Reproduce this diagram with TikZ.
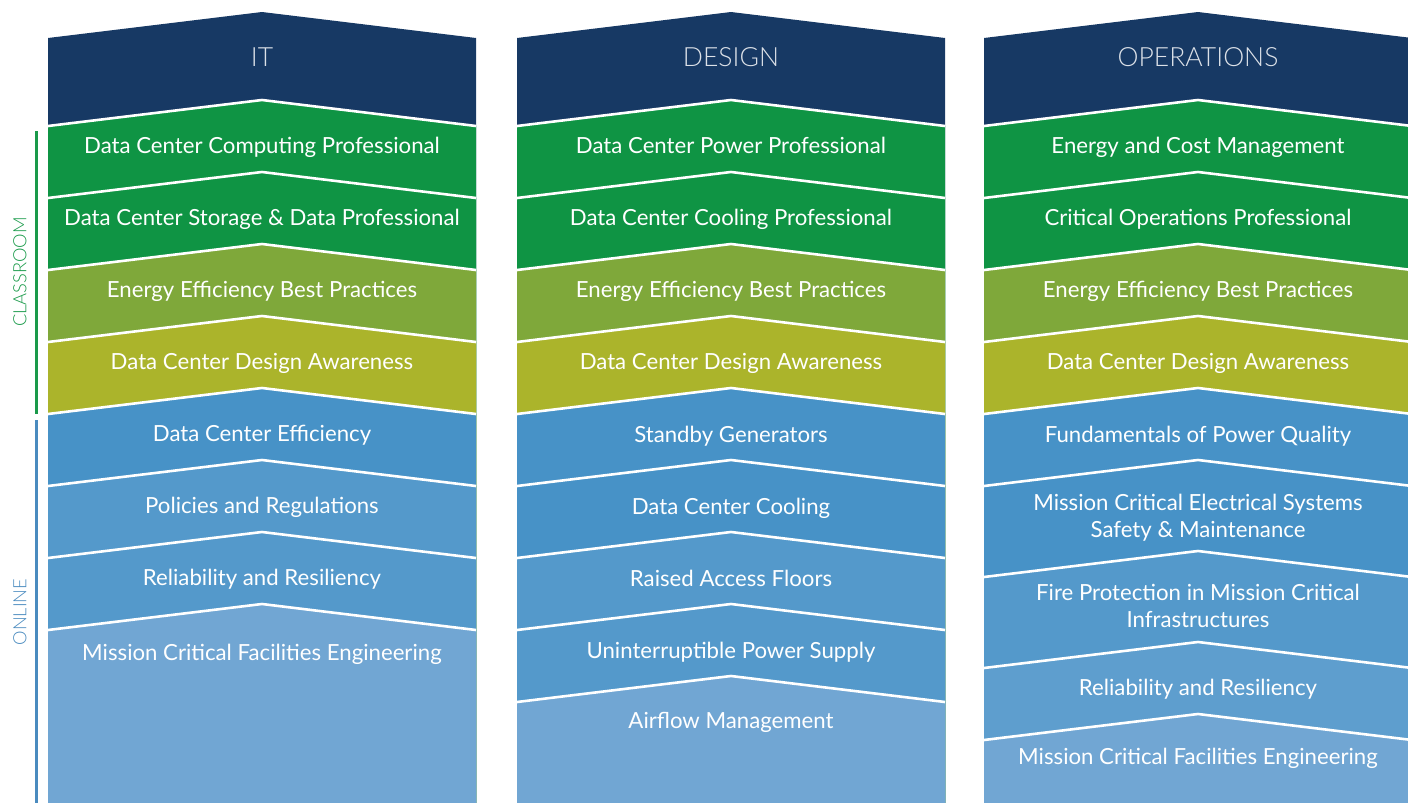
\documentclass[tikz,border=0pt]{standalone}
\usepackage{fontspec}
\setmainfont{Lato}
\newfontfamily\lightfont{Lato Light}

\definecolor{navy}{HTML}{173964}
\definecolor{leafgreen}{HTML}{0F9444}
\definecolor{olive}{HTML}{7FA83A}
\definecolor{lime}{HTML}{ABB42B}
\definecolor{blueA}{HTML}{4792C7}
\definecolor{blueB}{HTML}{5499CB}
\definecolor{blueC}{HTML}{5E9ECE}
\definecolor{blueD}{HTML}{71A6D3}
\definecolor{classgreen}{HTML}{1A9A4A}
\definecolor{onlineblue}{HTML}{4A8BBF}

% band from a chevron top edge down to the bottom of the page
\newcommand{\chevfill}[3]{\fill[#3] (#1,#2) -- ++(214,-26) -- ++(214,26) -- (#1+428,803) -- (#1,803) -- cycle;}
% white chevron seam between two bands
\newcommand{\chevline}[2]{\draw[seam] (#1,#2) -- ++(214,-26) -- ++(214,26);}

\begin{document}
\begin{tikzpicture}[x=1pt, y=-1pt,
    seam/.style={white, line width=2.6pt},
    lbl/.style={anchor=base, text=white, inner sep=0pt, align=center,
                font=\fontsize{22.2}{27}\selectfont},
    hdr/.style={anchor=base, text=white!85!navy, inner sep=0pt,
                font=\lightfont\fontsize{26.5}{30}\selectfont},
    side/.style={rotate=90, inner sep=0pt, font=\lightfont\fontsize{18.3}{22}\selectfont},
    bracket/.style={line width=3pt}]
    \useasboundingbox (0,0) rectangle (1408,803);

    % IT
    \chevfill{48}{38}{navy}
    \chevfill{48}{126}{leafgreen}
    \chevfill{48}{198}{leafgreen}
    \chevfill{48}{270}{olive}
    \chevfill{48}{342}{lime}
    \chevfill{48}{414}{blueA}
    \chevfill{48}{486}{blueB}
    \chevfill{48}{558}{blueB}
    \chevfill{48}{630}{blueD}

    % DESIGN
    \chevfill{517}{38}{navy}
    \chevfill{517}{126}{leafgreen}
    \chevfill{517}{198}{leafgreen}
    \chevfill{517}{270}{olive}
    \chevfill{517}{342}{lime}
    \chevfill{517}{414}{blueA}
    \chevfill{517}{486}{blueA}
    \chevfill{517}{558}{blueB}
    \chevfill{517}{630}{blueB}
    \chevfill{517}{702}{blueD}

    % OPERATIONS
    \chevfill{984}{38}{navy}
    \chevfill{984}{126}{leafgreen}
    \chevfill{984}{198}{leafgreen}
    \chevfill{984}{270}{olive}
    \chevfill{984}{342}{lime}
    \chevfill{984}{414}{blueA}
    \chevfill{984}{486}{blueA}
    \chevfill{984}{577}{blueB}
    \chevfill{984}{668}{blueC}
    \chevfill{984}{740}{blueD}

    \foreach \y in {126,198,270,342,414,486,558,630} {\chevline{48}{\y}}
    \foreach \y in {126,198,270,342,414,486,558,630,702} {\chevline{517}{\y}}
    \foreach \y in {126,198,270,342,414,486,577,668,740} {\chevline{984}{\y}}

    \node[hdr] (ith) at (262,66) {IT};
    \node[hdr] (desh) at (731,66) {DESIGN};
    \node[hdr] (opsh) at (1198,66) {OPERATIONS};

    \node[lbl] (it1) at (262,153) {Data Center Computing Professional};
    \node[lbl] (it2) at (262,225) {Data Center Storage \& Data Professional};
    \node[lbl] (it3) at (262,297) {Energy Efficiency Best Practices};
    \node[lbl] (it4) at (262,369) {Data Center Design Awareness};
    \node[lbl] (it5) at (262,441) {Data Center Efficiency};
    \node[lbl] (it6) at (262,513) {Policies and Regulations};
    \node[lbl] (it7) at (262,585) {Reliability and Resiliency};
    \node[lbl] (it8) at (262,660) {Mission Critical Facilities Engineering};

    \node[lbl] (des1) at (731,153) {Data Center Power Professional};
    \node[lbl] (des2) at (731,225) {Data Center Cooling Professional};
    \node[lbl] (des3) at (731,297) {Energy Efficiency Best Practices};
    \node[lbl] (des4) at (731,369) {Data Center Design Awareness};
    \node[lbl] (des5) at (731,442) {Standby Generators};
    \node[lbl] (des6) at (731,514) {Data Center Cooling};
    \node[lbl] (des7) at (731,586) {Raised Access Floors};
    \node[lbl] (des8) at (731,658) {Uninterruptible Power Supply};
    \node[lbl] (des9) at (731,728) {Airflow Management};

    \node[lbl] (ops1) at (1198,153) {Energy and Cost Management};
    \node[lbl] (ops2) at (1198,225) {Critical Operations Professional};
    \node[lbl] (ops3) at (1198,297) {Energy Efficiency Best Practices};
    \node[lbl] (ops4) at (1198,369) {Data Center Design Awareness};
    \node[lbl] (ops5) at (1198,442) {Fundamentals of Power Quality};
    \node[lbl] (ops6) at (1198,537) {Mission Critical Electrical Systems\\Safety \& Maintenance};
    \node[lbl] (ops7) at (1198,627) {Fire Protection in Mission Critical\\Infrastructures};
    \node[lbl] (ops8) at (1198,695) {Reliability and Resiliency};
    \node[lbl] (ops9) at (1198,764) {Mission Critical Facilities Engineering};

    % delivery brackets
    \coordinate (clsTop) at (36.5,131);
    \coordinate (clsBot) at (36.5,414);
    \coordinate (onlTop) at (36.5,420);
    \coordinate (onlBot) at (36.5,803);
    \draw[bracket, classgreen] (clsTop) -- (clsBot);
    \draw[bracket, onlineblue] (onlTop) -- (onlBot);
    \node[side, text=classgreen] (cls) at (20,272) {CLASSROOM};
    \node[side, text=onlineblue] (onl) at (20,612) {ONLINE};
\end{tikzpicture}
\end{document}
